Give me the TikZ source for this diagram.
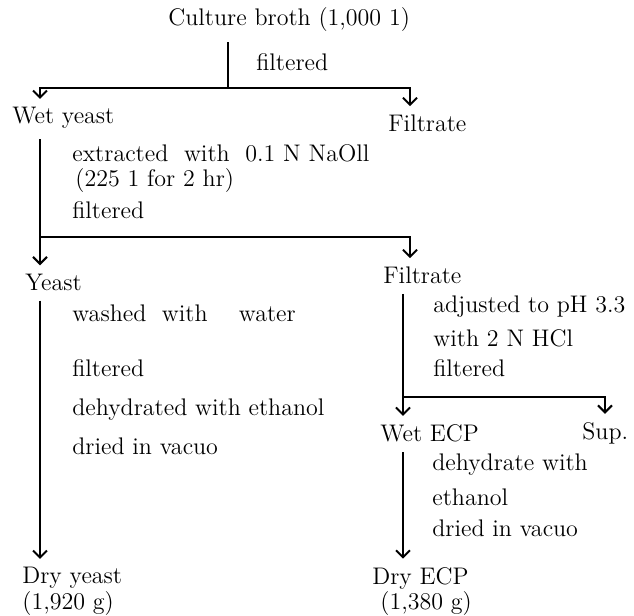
\documentclass[tikz,border=0pt]{standalone}
\usepackage{tikz}
\usetikzlibrary{arrows.meta}

\begin{document}
\begin{tikzpicture}[
  x=0.5pt, y=-0.5pt,
  font=\fontsize{12}{14}\selectfont,
  lbl/.style={anchor=west, inner sep=0pt},
  ln/.style={line width=1pt, shorten <=5pt},
  arr/.style={ln, -{Straight Barb[length=3.5pt,width=7pt,line width=1pt]}, shorten >=4pt}
]
\useasboundingbox (0,0) rectangle (634,616);

% main column and branch positions
\coordinate (xa) at (40,0);
\coordinate (xb) at (410,0);
\coordinate (xc) at (403,0);
\coordinate (xd) at (605,0);

\node[lbl] (broth) at (168,20) {Culture broth (1,000 1)};
\node[lbl] (filt1) at (256,62) {filtered};
\node[lbl] (wety) at (12,118) {Wet yeast};
\node[lbl] (filtr1) at (388,123) {Filtrate};

\node[lbl] (ext) at (72,153) {extracted\ \ with\ \ 0.1 N NaOll};
\node[lbl] (vol) at (75,181) {(225 1 for 2 hr)};
\node[lbl] (filt2) at (72,210) {filtered};

\node[lbl] (yeast) at (25,282) {Yeast};
\node[lbl] (filtr2) at (383,275) {Filtrate};

\node[lbl] (wash) at (72,313) {washed\ \ with\ \ \ \ water};
\node[lbl] (filt3) at (72,368) {filtered};
\node[lbl] (dehyd) at (72,410) {dehydrated with ethanol};
\node[lbl] (dried1) at (72,446) {dried in vacuo};

\node[lbl] (adj) at (433,307) {adjusted to pH 3.3};
\node[lbl] (hcl) at (433,338) {with 2 N HCl};
\node[lbl] (filt4) at (433,368) {filtered};

\node[lbl] (wetecp) at (380,433) {Wet ECP};
\node[lbl] (sup) at (582,433) {Sup.};
\node[lbl] (dehy2) at (432,465) {dehydrate with};
\node[lbl] (eth) at (432,497) {ethanol};
\node[lbl] (dried2) at (432,528) {dried in vacuo};

\node[lbl] (dryy) at (22,578) {Dry yeast};
\node[lbl] (gy) at (22,604) {(1,920 g)};
\node[lbl] (dryecp) at (372,578) {Dry ECP};
\node[lbl] (gecp) at (380,604) {(1,380 g)};

% splits
\coordinate (j1) at (228,88);
\coordinate (j2) at (40,237);
\coordinate (j3) at (403,397);

\draw[ln] (broth.south -| j1) -- (j1);
\draw[arr, shorten <=0pt] (j1) -| (wety.north -| xa);
\draw[arr, shorten <=0pt] (j1) -| (filtr1.north -| xb);

\draw[ln] (wety.south -| xa) -- (j2);
\draw[arr, shorten <=0pt] (j2) -- (yeast.north -| xa);
\draw[arr, shorten <=0pt] (j2) -| (filtr2.north -| xb);

\draw[arr] (yeast.south -| xa) -- (dryy.north -| xa);

\draw[ln] (filtr2.south -| xc) -- (j3);
\draw[arr, shorten <=0pt] (j3) -- (wetecp.north -| xc);
\draw[arr, shorten <=0pt] (j3) -| (sup.north -| xd);

\draw[arr] (wetecp.south -| xc) -- (dryecp.north -| xc);

\end{tikzpicture}
\end{document}
